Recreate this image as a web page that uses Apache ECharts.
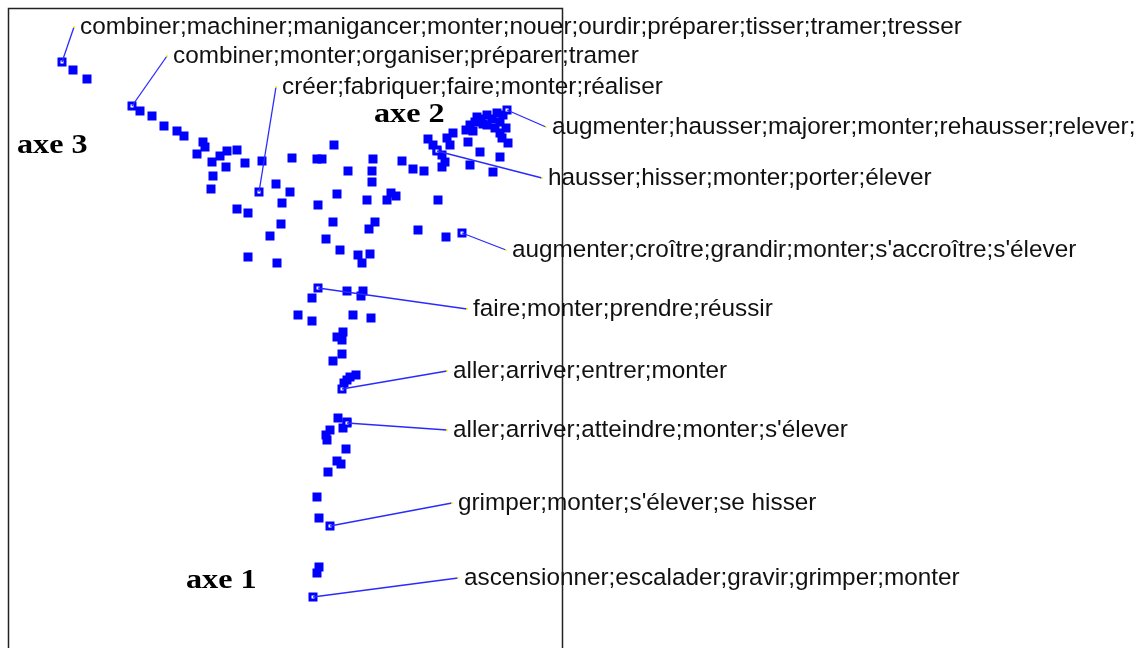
<!DOCTYPE html>
<html>
<head>
<meta charset="utf-8">
<script src="https://cdn.jsdelivr.net/npm/echarts@6/dist/echarts.min.js"></script>
<style>
html,body{margin:0;padding:0;background:#fff;}
#chart{width:1142px;height:648px;}
</style>
</head>
<body>
<div id="chart"></div>
<script>
// ---- DATA (factor-map coordinates) ----
// unlabelled word-sets
const cloudPoints = [
  [73,70],[87,79],
  [140,111],[152,116],[164,126],[177,131],[184,136],[203,142],[205,147],[197,154],[212,162],[220,156],
  [227,151],[237,150],[226,167],[245,163],[213,176],[211,189],
  [262,161],[237,209],[248,213],[276,184],[290,192],[282,203],[292,158],[317,159],[322,159],[334,145],
  [348,171],[337,194],[318,205],[373,159],[372,171],[372,182],[367,200],[391,193],[396,196],[387,200],
  [333,222],[375,222],[369,229],[281,224],[270,236],[326,239],[340,250],[358,255],[362,263],[370,254],
  [248,257],[277,263],
  [402,161],[413,169],[424,171],[418,230],[446,237],[438,200],
  [428,139],[433,145],[437,150],[442,155],[445,162],[442,167],[447,138],[453,133],[450,145],
  [470,125],[477,117],[487,115],[497,113],[487,125],[500,122],[500,133],[506,128],[508,143],
  [468,142],[480,152],[470,165],[500,157],[493,172],[481,119],[492,119],[475,122],[503,115],[495,128],
  [483,124],[502,138],[466,130],[473,131],
  [312,298],[347,291],[363,291],[361,296],[298,315],[312,321],[353,315],[371,318],
  [343,332],[337,337],[342,340],[342,354],[333,361],
  [356,375],[350,377],[347,380],[344,383],
  [338,418],[347,422],[330,430],[343,428],[326,435],[327,440],[346,449],[337,461],[341,464],[328,472],
  [317,497],[319,518],[319,567],[317,573]
];

// labelled word-sets
const labeledPoints = [
  [62,62],[132,106],[259,192],[507,110],[437,151],[462,233],
  [318,288],[342,389],[347,423],[330,526],[313,597]
];
const labelTexts = [
  "combiner;machiner;manigancer;monter;nouer;ourdir;préparer;tisser;tramer;tresser",
  "combiner;monter;organiser;préparer;tramer",
  "créer;fabriquer;faire;monter;réaliser",
  "augmenter;hausser;majorer;monter;rehausser;relever;",
  "hausser;hisser;monter;porter;élever",
  "augmenter;croître;grandir;monter;s'accroître;s'élever",
  "faire;monter;prendre;réussir",
  "aller;arriver;entrer;monter",
  "aller;arriver;atteindre;monter;s'élever",
  "grimper;monter;s'élever;se hisser",
  "ascensionner;escalader;gravir;grimper;monter"
];
const axisNames = ["axe 1", "axe 2", "axe 3"];

// ---- LAYOUT (where each label's leader line ends) ----
const leaderEnds = [
  [74,27],[167,56],[276,87],[546,127],[542,178],[506,250],
  [467,309],[447,371],[447,430],[452,503],[458,578]
];
const axisNamePos = [[186,595],[374,129],[17,160]];

const BLUE = '#0000ff';
const chart = echarts.init(document.getElementById('chart'), null, {renderer:'canvas'});

const leaderData = labeledPoints.map((p, i) => ({coords: [p, leaderEnds[i]]}));
const anchorData = leaderEnds.map((p, i) => ({name: labelTexts[i], value: p}));

chart.setOption({
  animation: false,
  backgroundColor: '#ffffff',
  grid: {left: 0, right: 0, top: 0, bottom: 0},
  xAxis: {type: 'value', min: 0, max: 1142, show: false},
  yAxis: {type: 'value', min: 0, max: 648, inverse: true, show: false},
  graphic: [
    {type: 'rect', z: 0, silent: true,
     shape: {x: 8.5, y: 8.5, width: 554, height: 700},
     style: {fill: 'none', stroke: '#222', lineWidth: 1.5}},
  ].concat(axisNames.map((t, i) => ({
    type: 'text', z: 10, silent: true,
    x: axisNamePos[i][0], y: axisNamePos[i][1],
    scaleX: 1.15, originX: 0, originY: 0,
    style: {text: t, font: 'bold 28px "Liberation Serif", "Times New Roman", serif',
            fill: '#000', textVerticalAlign: 'bottom', textAlign: 'left'}
  }))),
  series: [
    {
      type: 'scatter', z: 2, symbol: 'rect', symbolSize: 9,
      itemStyle: {color: BLUE, opacity: 1},
      data: cloudPoints
    },
    {
      type: 'scatter', z: 3, symbol: 'rect', symbolSize: 9,
      itemStyle: {color: BLUE, opacity: 1},
      data: labeledPoints
    },
    {
      type: 'scatter', z: 4, symbol: 'rect', symbolSize: 3,
      itemStyle: {color: '#ffffff', opacity: 1},
      data: labeledPoints
    },
    {
      type: 'lines', coordinateSystem: 'cartesian2d', z: 5,
      polyline: false, silent: true,
      lineStyle: {color: '#2a2aff', width: 1.3, opacity: 1},
      data: leaderData
    },
    {
      type: 'scatter', z: 6, symbol: 'circle', symbolSize: 2,
      itemStyle: {color: '#ffff00', opacity: 1},
      label: {
        show: true, position: 'right', distance: 5,
        formatter: '{b}',
        fontFamily: '"Liberation Sans", Arial, sans-serif',
        fontSize: 24.3, color: '#111'
      },
      data: anchorData
    }
  ]
});
</script>
</body>
</html>
